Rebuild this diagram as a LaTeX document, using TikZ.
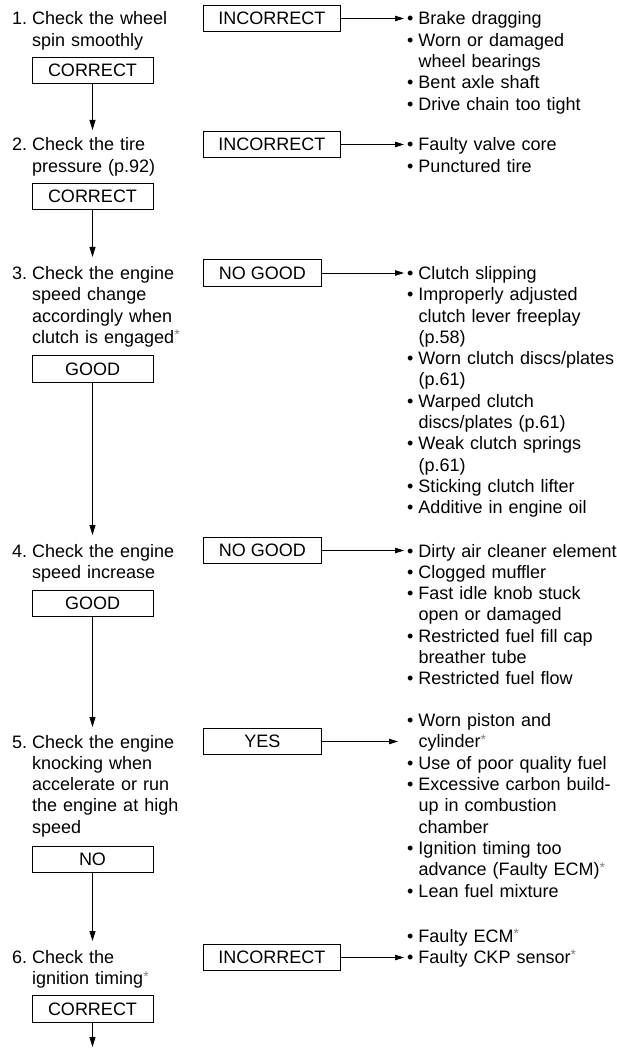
\documentclass[tikz,border=0pt]{standalone}
\usepackage{fontspec}
\setmainfont{Liberation Sans}
\usetikzlibrary{arrows.meta}
\newcommand\astk{{\color{black!50}\raisebox{3.5pt}{\fontsize{14}{14}\selectfont *}}}
\newcommand\bu{\makebox[11.3pt][l]{\textbullet}}
\newcommand\ind{\hspace*{11.3pt}}
\newcommand\stp[1]{\makebox[20pt][l]{#1.}}
\newcommand\sind{\hspace*{20pt}}
\begin{document}
\begin{tikzpicture}[x=1pt,y=-1pt,
  every node/.style={font=\fontsize{18}{21.3}\selectfont},
  lbox/.style={draw, line width=0.9pt, minimum width=121pt, minimum height=26.5pt, inner sep=0pt},
  rbox/.style={draw, line width=0.9pt, minimum width=#1, minimum height=26.5pt, inner sep=0pt, anchor=west},
  txt/.style={anchor=base west, inner sep=0pt, text width=#1, align=left},
  arr/.style={line width=0.9pt, -{Triangle[length=10pt,width=6pt]}},
  harr/.style={line width=0.9pt, -{Triangle[length=9pt,width=5.5pt]}}]
\useasboundingbox (0,0) rectangle (616,1048);
\fill[white] (0,0) rectangle (616,1048);

% ---------- Step 1
\node[txt=185pt] (t1) at (12,24.9) {\stp{1}Check the wheel\\\sind spin smoothly};
\node[lbox] (c1) at (92.5,70.5) {CORRECT};
\node[rbox=137pt] (r1) at (203,18.5) {INCORRECT};
\coordinate (h1) at (404,18.5);
\node[txt=230pt] (l1) at (407,24.9) {\bu Brake dragging\\
  \bu Worn or damaged\\\ind wheel bearings\\
  \bu Bent axle shaft\\
  \bu Drive chain too tight};
\draw[harr] (r1.east) -- (h1);
\coordinate (v1) at (92.5,130);
\draw[arr] (c1.south) -- (v1);

% ---------- Step 2
\node[txt=185pt] (t2) at (12,151) {\stp{2}Check the tire\\\sind pressure (p.92)};
\node[lbox] (c2) at (92.5,196.5) {CORRECT};
\node[rbox=137pt] (r2) at (203,144.5) {INCORRECT};
\coordinate (h2) at (404,144.5);
\node[txt=230pt] (l2) at (407,151) {\bu Faulty valve core\\
  \bu Punctured tire};
\draw[harr] (r2.east) -- (h2);
\coordinate (v2) at (92.5,257);
\draw[arr] (c2.south) -- (v2);

% ---------- Step 3
\node[txt=185pt] (t3) at (12,279.4) {\stp{3}Check the engine\\\sind speed change\\\sind accordingly when\\\sind clutch is engaged\astk};
\node[lbox] (g3) at (92.5,369) {GOOD};
\node[rbox=118pt] (r3) at (203,273) {NO GOOD};
\coordinate (h3) at (404,273);
\node[txt=230pt] (l3) at (407,279.4) {\bu Clutch slipping\\
  \bu Improperly adjusted\\\ind clutch lever freeplay\\\ind (p.58)\\
  \bu Worn clutch discs/plates\\\ind (p.61)\\
  \bu Warped clutch\\\ind discs/plates (p.61)\\
  \bu Weak clutch springs\\\ind (p.61)\\
  \bu Sticking clutch lifter\\
  \bu Additive in engine oil};
\draw[harr] (r3.east) -- (h3);
\coordinate (v3) at (92.5,535);
\draw[arr] (g3.south) -- (v3);

% ---------- Step 4
\node[txt=185pt] (t4) at (12,557) {\stp{4}Check the engine\\\sind speed increase};
\node[lbox] (g4) at (92.5,603.5) {GOOD};
\node[rbox=118pt] (r4) at (203,550.5) {NO GOOD};
\coordinate (h4) at (404,550.5);
\node[txt=230pt] (l4) at (407,557) {\bu Dirty air cleaner element\\
  \bu Clogged muffler\\
  \bu Fast idle knob stuck\\\ind open or damaged\\
  \bu Restricted fuel fill cap\\\ind breather tube\\
  \bu Restricted fuel flow};
\draw[harr] (r4.east) -- (h4);
\coordinate (v4) at (92.5,727);
\draw[arr] (g4.south) -- (v4);

% ---------- Step 5
\node[txt=185pt] (t5) at (12,748) {\stp{5}Check the engine\\\sind knocking when\\\sind accelerate or run\\\sind the engine at high\\\sind speed};
\node[lbox] (n5) at (92.5,859.5) {NO};
\node[rbox=118pt] (r5) at (203,741.5) {YES};
\coordinate (h5) at (398,741.5);
\node[txt=230pt] (l5) at (407,726.6) {\bu Worn piston and\\\ind cylinder\astk\\
  \bu Use of poor quality fuel\\
  \bu Excessive carbon build-\\\ind up in combustion\\\ind chamber\\
  \bu Ignition timing too\\\ind advance (Faulty ECM)\astk\\
  \bu Lean fuel mixture};
\draw[harr] (r5.east) -- (h5);
\coordinate (v5) at (92.5,941);
\draw[arr] (n5.south) -- (v5);

% ---------- Step 6
\node[txt=185pt] (t6) at (12,963.4) {\stp{6}Check the\\\sind ignition timing\astk};
\node[lbox] (c6) at (92.5,1009) {CORRECT};
\node[rbox=137pt] (r6) at (203,957.5) {INCORRECT};
\coordinate (h6) at (404,957.5);
\node[txt=230pt] (l6) at (407,942.1) {\bu Faulty ECM\astk\\
  \bu Faulty CKP sensor\astk};
\draw[harr] (r6.east) -- (h6);
\coordinate (v6) at (92.5,1047);
\draw[arr] (c6.south) -- (v6);
\end{tikzpicture}
\end{document}
